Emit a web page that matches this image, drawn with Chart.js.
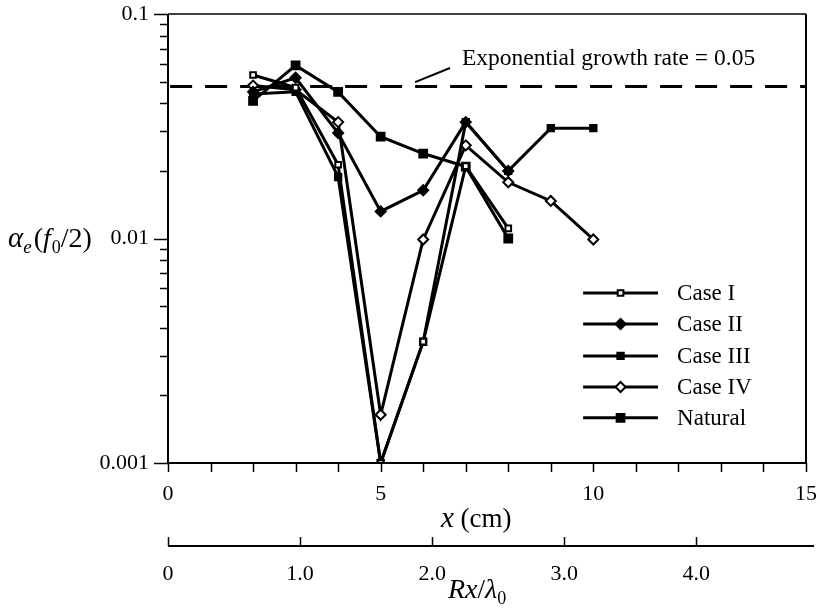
<!DOCTYPE html>
<html>
<head>
<meta charset="utf-8">
<script src="https://cdn.jsdelivr.net/npm/chart.js@4.4.1/dist/chart.umd.min.js"></script>
<style>
  html, body { margin: 0; padding: 0; background: #fff; }
  #wrap { width: 820px; height: 610px; }
</style>
</head>
<body>
<div id="wrap"><canvas id="c" width="820" height="610"></canvas></div>
<script>
// x positions (cm) and growth rates
const xCm     = [2, 3, 4, 5, 6, 7, 8, 9, 10];
const caseI   = [0.0535, 0.047, 0.0213, 0.001, 0.00347, 0.021, 0.0111];
const caseII  = [0.045, 0.052, 0.0295, 0.0132, 0.0164, 0.033, 0.020];
const caseIII = [0.044, 0.045, 0.0188, 0.001, 0.00347, 0.033, 0.020, 0.031, 0.031];
const caseIV  = [0.048, 0.046, 0.033, 0.00164, 0.0099, 0.026, 0.0178, 0.0147, 0.0099];
const natural = [0.041, 0.059, 0.045, 0.0284, 0.0239, 0.0209, 0.0100];

const growthRate = 0.0475;           // dashed reference line
const growthLabel = 'Exponential growth rate = 0.05';
const yMajor = [0.001, 0.01, 0.1];
const xLabels = [0, 5, 10, 15];
const x2Ticks = [0, 1, 2, 3, 4];
const x2Labels = ['0', '1.0', '2.0', '3.0', '4.0'];
const legendRows = [0.00572, 0.00416, 0.0030, 0.00218, 0.00159];

const SERIF = '"Liberation Serif", "DejaVu Serif", serif';

const pts = arr => arr.map((v, i) => ({ x: xCm[i], y: v }));

function series(label, data, style, radius, fill) {
  return {
    label, data: pts(data),
    borderColor: '#000', borderWidth: 3,
    pointStyle: style, pointRadius: radius,
    pointBackgroundColor: fill, pointBorderColor: '#000', pointBorderWidth: 2,
    tension: 0
  };
}

const datasets = [
  series('Case I', caseI, 'rect', 4, '#fff'),
  series('Case II', caseII, 'rectRot', 5, '#000'),
  series('Case III', caseIII, 'rect', 4.5, '#000'),
  series('Case IV', caseIV, 'rectRot', 5, '#fff'),
  series('Natural', natural, 'rect', 5.5, '#000')
];
datasets.push({
  label: 'growth', data: [{ x: 0.05, y: growthRate }, { x: 15, y: growthRate }],
  borderColor: '#000', borderWidth: 3, borderDash: [22, 13], pointRadius: 0
});

const noPad = s => { s.paddingLeft = s.paddingRight = s.paddingTop = s.paddingBottom = 0; };

// frame, ticks, titles, legend, annotation
const decor = {
  id: 'decor',
  afterDraw(chart) {
    const { ctx, chartArea: a, scales: { x, y, x2 } } = chart;
    ctx.save();
    ctx.strokeStyle = '#000';
    ctx.fillStyle = '#000';
    // frame
    ctx.lineWidth = 2;
    ctx.beginPath();
    ctx.moveTo(a.left, a.top); ctx.lineTo(a.left, a.bottom);
    ctx.moveTo(a.left, a.bottom); ctx.lineTo(a.right, a.bottom);
    ctx.moveTo(a.right, a.top); ctx.lineTo(a.right, a.bottom);
    ctx.stroke();
    ctx.lineWidth = 1.5;
    ctx.beginPath();
    ctx.moveTo(a.left, a.top); ctx.lineTo(a.right, a.top);
    ctx.stroke();

    // y ticks (outward)
    y.ticks.forEach(t => {
      const py = Math.round(y.getPixelForValue(t.value)) + 0.5;
      const len = yMajor.includes(t.value) ? 14 : 8;
      ctx.beginPath(); ctx.moveTo(a.left - len, py); ctx.lineTo(a.left, py); ctx.stroke();
    });
    // x ticks (downward)
    for (let v = 0; v <= 15; v++) {
      const px = Math.round(x.getPixelForValue(v)) + 0.5;
      ctx.beginPath(); ctx.moveTo(px, a.bottom); ctx.lineTo(px, a.bottom + 9); ctx.stroke();
    }
    // secondary axis line + upward ticks
    const ly = x2.top;
    ctx.lineWidth = 2;
    ctx.beginPath(); ctx.moveTo(a.left, ly); ctx.lineTo(a.right + 8, ly); ctx.stroke();
    ctx.lineWidth = 1.5;
    x2Ticks.forEach(v => {
      const px = Math.round(x2.getPixelForValue(v)) + 0.5;
      ctx.beginPath(); ctx.moveTo(px, ly); ctx.lineTo(px, ly - 9); ctx.stroke();
    });

    // axis titles
    ctx.textBaseline = 'alphabetic';
    ctx.textAlign = 'left';
    let cx = 8, by = 247;
    const put = (txt, font, dy = 0) => { ctx.font = font; ctx.fillText(txt, cx, by + dy); cx += ctx.measureText(txt).width; };
    put('α', 'italic 29px ' + SERIF);
    put('e', 'italic 19px ' + SERIF, 6);
    cx += 2;
    put('(', '28px ' + SERIF);
    put('f', 'italic 28px ' + SERIF);
    cx += 1;
    put('0', '18px ' + SERIF, 6);
    put('/2)', '28px ' + SERIF);

    cx = 441; by = 527;
    put('x', 'italic 29px ' + SERIF);
    put(' (cm)', '27px ' + SERIF);

    cx = 448; by = 598;
    put('Rx', 'italic 28px ' + SERIF);
    put('/', '27px ' + SERIF);
    put('λ', 'italic 28px ' + SERIF);
    put('0', '18px ' + SERIF, 6);

    // annotation for dashed line
    ctx.lineWidth = 2;
    ctx.beginPath();
    ctx.moveTo(x.getPixelForValue(5.81), y.getPixelForValue(0.0497));
    ctx.lineTo(x.getPixelForValue(6.63), y.getPixelForValue(0.0575));
    ctx.stroke();
    ctx.font = '23.5px ' + SERIF;
    ctx.fillText(growthLabel, x.getPixelForValue(6.91), y.getPixelForValue(0.0593));

    // legend
    const lx0 = x.getPixelForValue(9.76), lx1 = x.getPixelForValue(11.52);
    datasets.slice(0, 5).forEach((ds, i) => {
      const py = y.getPixelForValue(legendRows[i]);
      ctx.strokeStyle = '#000';
      ctx.lineWidth = 3;
      ctx.beginPath(); ctx.moveTo(lx0, py); ctx.lineTo(lx1, py); ctx.stroke();
      ctx.fillStyle = ds.pointBackgroundColor;
      ctx.lineWidth = 2;
      Chart.helpers.drawPoint(ctx, {
        pointStyle: ds.pointStyle, radius: ds.pointRadius, borderWidth: 2
      }, (lx0 + lx1) / 2, py);
      ctx.fillStyle = '#000';
      ctx.font = '23px ' + SERIF;
      ctx.textBaseline = 'middle';
      ctx.fillText(ds.label, x.getPixelForValue(11.97), py + 1);
      ctx.textBaseline = 'alphabetic';
    });
    ctx.restore();
  }
};

new Chart(document.getElementById('c'), {
  type: 'line',
  data: { datasets },
  plugins: [decor],
  options: {
    responsive: false,
    animation: false,
    layout: { padding: { left: 0, top: 14, right: 14, bottom: 0 } },
    plugins: { legend: { display: false }, tooltip: { enabled: false } },
    scales: {
      x: {
        type: 'linear', position: 'bottom', min: 0, max: 15,
        grid: { display: false }, border: { display: false },
        ticks: {
          stepSize: 5, padding: 10, color: '#000', maxRotation: 0,
          font: { family: SERIF, size: 22 },
          callback: v => xLabels.includes(v) ? String(v) : ''
        },
        afterFit: s => { s.height = 83; noPad(s); }
      },
      x2: {
        type: 'linear', position: 'bottom', min: 0, max: 4.83,
        grid: { display: false }, border: { display: false },
        afterBuildTicks: s => { s.ticks = x2Ticks.map(v => ({ value: v })); },
        ticks: {
          padding: 7, color: '#000', maxRotation: 0, autoSkip: false,
          font: { family: SERIF, size: 22 },
          callback: (v, i) => x2Labels[i]
        },
        afterFit: s => { s.height = 64; noPad(s); }
      },
      y: {
        type: 'logarithmic', min: 0.001, max: 0.1,
        grid: { display: false }, border: { display: false },
        afterBuildTicks: s => {
          const t = [];
          [0.001, 0.01].forEach(d => { for (let k = 1; k < 10; k++) t.push(+(d * k).toPrecision(3)); });
          t.push(0.1);
          s.ticks = t.map(v => ({ value: v }));
        },
        ticks: {
          padding: 11, color: '#000', autoSkip: false,
          font: { family: SERIF, size: 22 },
          callback: v => yMajor.includes(v) ? String(v) : ''
        },
        afterFit: s => { s.width = 168; noPad(s); }
      }
    }
  }
});
</script>
</body>
</html>
